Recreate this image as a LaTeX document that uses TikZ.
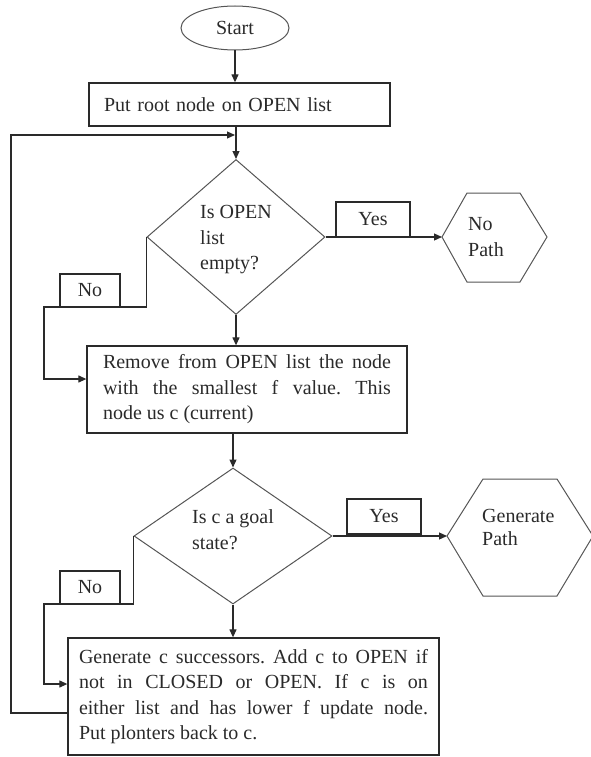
\documentclass[tikz,border=0pt]{standalone}
\usepackage{fontspec}
\setmainfont{Liberation Serif}
\usetikzlibrary{arrows.meta,shapes.geometric}
\definecolor{ink}{HTML}{2A2A2A}
\definecolor{edge}{HTML}{555555}
\frenchspacing
\begin{document}
\begin{tikzpicture}[x=1pt,y=-1pt,
  every node/.style={font=\fontsize{20}{25.5}\selectfont\frenchspacing, text=ink},
  conn/.style={draw=ink, line width=1.2pt},
  arr/.style={conn, -{Triangle[length=8pt,width=7pt]}},
  termin/.style={ellipse, draw=edge, line width=1pt, minimum width=108pt, minimum height=44pt, inner sep=0pt},
  procbox/.style={rectangle, draw=ink, line width=1.3pt, inner ysep=0pt, align=justify},
  decision/.style={diamond, draw=edge, line width=1pt, inner sep=0pt},
  lbl/.style={rectangle, draw=ink, line width=1.2pt, inner sep=0pt},
  txt/.style={inner sep=0pt, align=left, anchor=west},
  hexa/.style={draw=edge, line width=1pt}]
\useasboundingbox (0,0) rectangle (590,757);

% start and first box
\node[termin] (start) at (235,28) {Start};
\node[procbox, align=left, text width=271pt, inner xsep=15pt, minimum height=43pt] (root) at (239.5,104.5) {Put root node on OPEN list};

% first decision
\node[decision, minimum width=178pt, minimum height=155pt] (d1) at (236,237) {};
\node[txt] (d1t) at (200,240) {Is OPEN\\list\\empty?};

% yes branch 1
\node[lbl, minimum width=74pt, minimum height=35pt] (y1) at (373,219.5) {Yes};
\coordinate (h1w) at (442,237);
\draw[hexa] (h1w) -- (467,193) -- (520,193) -- (547,237) -- (520,282) -- (467,282) -- cycle;
\node[txt] (h1t) at (468,237) {No\\Path};

% second box
\node[procbox, text width=288pt, inner xsep=16pt, minimum height=87pt] (box2) at (247,389.5) {Remove from OPEN list the node\linebreak with the smallest f value. This\linebreak node us c (current)};

% no branch 1
\node[lbl, minimum width=60pt, minimum height=33pt] (n1) at (90,290.5) {No};
\coordinate (n1a) at (44,307);
\coordinate (n1b) at (44,379);

% second decision
\node[decision, minimum width=198pt, minimum height=136pt] (d2) at (233,536) {};
\node[txt] (d2t) at (192,529.5) {Is c a goal\\state?};

% yes branch 2
\node[lbl, minimum width=74pt, minimum height=35pt] (y2) at (384,516.5) {Yes};
\coordinate (h2w) at (447,536);
\draw[hexa] (h2w) -- (483,479) -- (557,479) -- (593,536) -- (557,596) -- (483,596) -- cycle;
\node[txt, font=\fontsize{20}{23}\selectfont] (h2t) at (482,527) {Generate\\Path};

% no branch 2
\node[lbl, minimum width=60pt, minimum height=33pt] (n2) at (90,587.5) {No};
\coordinate (n2a) at (44,604);
\coordinate (n2b) at (44,684);

% last box
\node[procbox, text width=349pt, inner xsep=11pt, minimum height=117pt] (box3) at (253.5,696.5) {Generate c successors. Add c to OPEN if\linebreak not in CLOSED or OPEN. If c is on\linebreak either list and has lower f update node.\linebreak Put plonters back to c.};

% feedback loop
\coordinate (fba) at (11,713);
\coordinate (fbb) at (11,135);
\coordinate (merge) at (235,135);

% connectors
\draw[arr] (start.south) -- (start.south |- root.north);
\draw[arr] (d1.north |- root.south) -- (d1.north);
\draw[arr] (d1.east) -- (h1w);
\draw[arr] (d1.west) |- (n1a) -- (n1b) -- (n1b -| box2.west);
\draw[arr] (d1.south) -- (d1.south |- box2.north);
\draw[arr] (d2.north |- box2.south) -- (d2.north);
\draw[arr] (d2.east) -- (h2w);
\draw[arr] (d2.west) |- (n2a) -- (n2b) -- (n2b -| box3.west);
\draw[arr] (d2.south) -- (d2.south |- box3.north);
\draw[arr] (fba -| box3.west) -- (fba) -- (fbb) -- (merge);
\end{tikzpicture}
\end{document}
